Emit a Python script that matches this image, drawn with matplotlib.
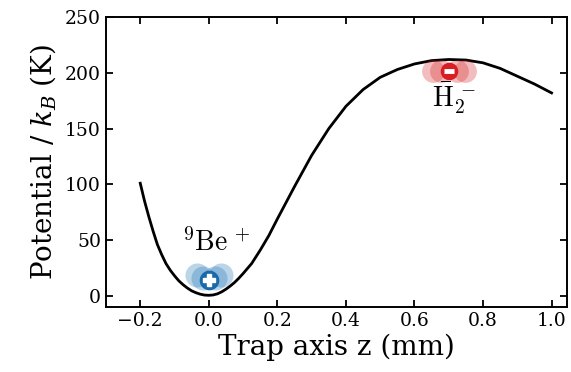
import matplotlib
matplotlib.use("Agg")
import matplotlib.pyplot as plt

# Potential curve
z_mm = [-0.2, -0.1875, -0.175, -0.1625, -0.15, -0.1375, -0.125, -0.1125, -0.1,
        -0.0875, -0.075, -0.0625, -0.05, -0.0375, -0.025, -0.0125, 0.0, 0.0125,
        0.025, 0.0375, 0.05, 0.0625, 0.075, 0.0875, 0.1, 0.125, 0.15, 0.175,
        0.2, 0.25, 0.3, 0.35, 0.4, 0.45, 0.5,
        0.55, 0.6, 0.65, 0.7, 0.75, 0.8, 0.85, 0.9, 0.95, 1.0]
potential_K = [101, 85, 71, 58, 46, 37, 29, 23, 18,
               13.5, 10, 7, 4.5, 2.8, 1.5, 0.7, 0.5, 0.8,
               1.8, 3.6, 6, 8.8, 12, 15.8, 20, 29, 41, 54,
               69, 98, 126, 150, 170, 185, 196,
               203, 208, 211, 212, 211.5, 209, 204, 197, 190, 182]

# Ion cloud markers
be_cloud_z = [-0.035, 0.035, -0.018, 0.018]
be_cloud_v = [19, 19, 16, 16]
be_z, be_v = 0.0, 14
hbar_cloud_z = [0.654, 0.746, 0.677, 0.723]
hbar_cloud_v = [202, 202, 202, 202]
hbar_z, hbar_v = 0.7, 202

x_ticks = [-0.2, 0.0, 0.2, 0.4, 0.6, 0.8, 1.0]
y_ticks = [0, 50, 100, 150, 200, 250]

plt.rcParams['font.family'] = ['DejaVu Serif']
plt.rcParams['mathtext.fontset'] = 'dejavuserif'

fig = plt.figure(figsize=(5.71, 3.72), dpi=100)
ax = fig.add_axes([0.1856, 0.1747, 0.8074, 0.7793])

ax.plot(z_mm, potential_K, color='black', lw=2.0, zorder=2)

blue = '#1f77b4'
red = '#d62728'
ax.scatter(be_cloud_z, be_cloud_v, s=300, color=blue, alpha=0.3, lw=0, zorder=3)
ax.scatter([be_z], [be_v], s=200, color='#1a6aab', lw=0, zorder=4)
ax.plot([be_z], [be_v], marker='P', ms=8, color='white', mec='white', zorder=5)

ax.scatter(hbar_cloud_z, hbar_cloud_v, s=270, color=red, alpha=0.3, lw=0, zorder=3)
ax.scatter([hbar_z], [hbar_v], s=160, color='#d81e25', lw=0, zorder=4)
ax.plot([hbar_z], [hbar_v], marker='_', ms=7, mew=3.5, color='white', zorder=5)

ax.text(0.022, 48, r'$^{9}\mathrm{Be}^{\,+}$', ha='center', va='center',
        fontsize=20, math_fontfamily='cm')
ax.text(0.715, 177, r'$\bar{\mathrm{H}}_2^{\,-}$', ha='center', va='center',
        fontsize=20, math_fontfamily='cm')

ax.set_xlim(-0.3, 1.045)
ax.set_ylim(-10, 250)
ax.set_xticks(x_ticks)
ax.set_yticks(y_ticks)
ax.tick_params(direction='in', top=True, right=True, length=5, width=1.3,
               labelsize=13.5, colors='black')
for s in ax.spines.values():
    s.set_linewidth(1.4)

ax.set_xlabel('Trap axis z (mm)', fontsize=20, labelpad=3)
ax.set_ylabel(r'Potential / $k_B$ (K)', fontsize=20, labelpad=5)

fig.savefig('out.png', dpi=100)
